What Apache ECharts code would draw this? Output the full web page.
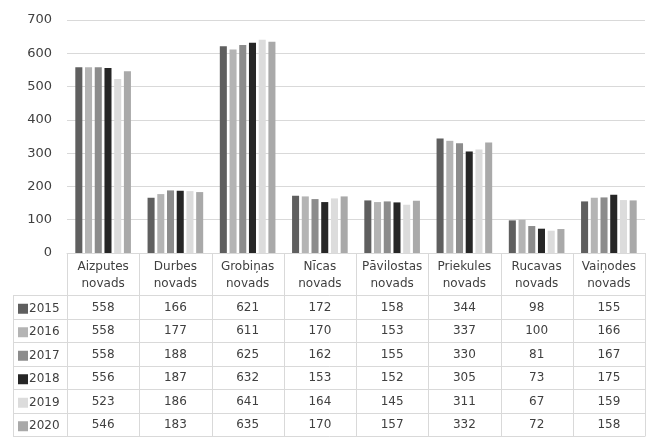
<!DOCTYPE html>
<html><head><meta charset="utf-8">
<script src="https://cdn.jsdelivr.net/npm/echarts@6/dist/echarts.min.js"></script>
<style>html,body{margin:0;padding:0;background:#fff}#c{width:648px;height:437px}</style>
</head><body><div id="c"></div>
<script>
const categories = ["Aizputes\nnovads","Durbes\nnovads","Grobiņas\nnovads","Nīcas\nnovads","Pāvilostas\nnovads","Priekules\nnovads","Rucavas\nnovads","Vaiņodes\nnovads"];
const years = ["2015","2016","2017","2018","2019","2020"];
const v2015 = [558,166,621,172,158,344,98,155];
const v2016 = [558,177,611,170,153,337,100,166];
const v2017 = [558,188,625,162,155,330,81,167];
const v2018 = [556,187,632,153,152,305,73,175];
const v2019 = [523,186,641,164,145,311,67,159];
const v2020 = [546,183,635,170,157,332,72,158];
const yTicks = [0,100,200,300,400,500,600,700];
const values = [v2015,v2016,v2017,v2018,v2019,v2020];
const colors = ["#5f5f5f","#b4b4b4","#8c8c8c","#262626","#dcdcdc","#a9a9a9"];

const FONT = "'DejaVu Sans', sans-serif";
const TXT = "#404040";
const LINE = "#d9d9d9";
const FS = 12;
const gridTop = 20, gridBottomY = 253, gridLeft = 67, gridRight = 645;
const headerBottom = 295, rowH = 23.5;

const chart = echarts.init(document.getElementById('c'), null, {renderer:'canvas'});

const xAxes = [{
  type:'category', data:categories, gridIndex:0,
  axisLine:{show:true, lineStyle:{color:LINE}},
  axisTick:{show:false},
  axisLabel:{color:TXT, fontSize:FS, fontFamily:FONT, lineHeight:17, margin:5, interval:0}
}];
years.forEach((y,i)=>{
  xAxes.push({
    type:'category', data:values[i].map(String), gridIndex:0, position:'bottom',
    offset: headerBottom + rowH*i + rowH/2 - 6 - gridBottomY,
    axisLine:{show:false}, axisTick:{show:false},
    axisLabel:{color:TXT, fontSize:FS, fontFamily:FONT, margin:0, interval:0, lineHeight:14}
  });
});

const option = {
  animation:false,
  backgroundColor:'#fff',
  grid:{left:gridLeft, right:648-gridRight, top:gridTop, bottom:437-gridBottomY, containLabel:false},
  legend:{
    orient:'vertical', left:18, top: headerBottom + (rowH-14)/2 + 2, padding:0,
    itemWidth:10, itemHeight:10, itemGap: rowH-14, icon:'rect',
    textStyle:{color:TXT, fontSize:FS, fontFamily:FONT, lineHeight:14, padding:[0,0,0,-4]},
    data: years
  },
  xAxis: xAxes,
  yAxis:{
    type:'value', min:yTicks[0], max:yTicks[yTicks.length-1], interval:100,
    axisLine:{show:false}, axisTick:{show:false},
    axisLabel:{color:TXT, fontSize:13, fontFamily:FONT, margin:15},
    splitLine:{lineStyle:{color:LINE, width:1}}
  },
  series: years.map((y,i)=>({
    name:y, type:'bar', data:values[i], xAxisIndex:0,
    itemStyle:{color:colors[i]},
    barGap:'38%', barCategoryGap:'23%'
  }))
};
chart.setOption(option);

// table lines
const g = [];
const n = categories.length;
const step = chart.convertToPixel({xAxisIndex:0}, 1) - chart.convertToPixel({xAxisIndex:0}, 0);
const bounds = [];
for (let k=0;k<=n;k++){
  const x = chart.convertToPixel({xAxisIndex:0}, 0) - step/2 + step*k;
  bounds.push(Math.round(x)+0.5);
}
const tableBottom = headerBottom + rowH*years.length;
bounds.forEach(x=>{
  g.push({type:'line', shape:{x1:x,y1:gridBottomY,x2:x,y2:tableBottom}, style:{stroke:LINE, lineWidth:1}, silent:true});
});
g.push({type:'line', shape:{x1:13.5,y1:headerBottom,x2:13.5,y2:tableBottom}, style:{stroke:LINE, lineWidth:1}, silent:true});
for (let r=0;r<=years.length;r++){
  const y = Math.round(headerBottom + rowH*r)+0.5;
  g.push({type:'line', shape:{x1:13,y1:y,x2:bounds[n],y2:y}, style:{stroke:LINE, lineWidth:1}, silent:true});
}
chart.setOption({graphic:g});
</script></body></html>
